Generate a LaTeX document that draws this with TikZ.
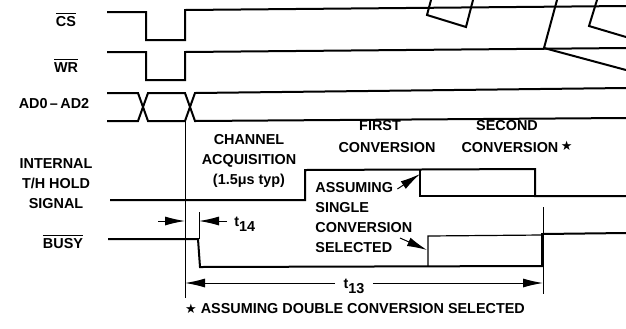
\documentclass[tikz,border=0pt]{standalone}
\usepackage{fontspec}
\setmainfont{Liberation Sans}
\newfontfamily\starfont{DejaVu Sans}
\usetikzlibrary{arrows.meta,positioning}
\newcommand{\sig}[1]{$\overline{\mbox{#1}}$}
\newcommand{\tsub}[2]{#1\raisebox{-2.5pt}{#2}}
\newcommand{\dstar}{{\starfont\fontsize{6.5}{6.5}\selectfont ★}}

\begin{document}
\begin{tikzpicture}[x=0.5pt,y=-0.5pt,node distance=10pt,
    font=\fontsize{7.2}{8}\selectfont\bfseries]
    \tikzstyle{wave}=[line width=1pt, line join=miter]
    \tikzstyle{alt}=[line width=0.6pt]
    \tikzstyle{ext}=[line width=0.4pt]
    \tikzstyle{dim}=[line width=0.5pt, -{Latex[length=10pt,width=4.5pt]}]
    \tikzstyle{txt}=[inner sep=0pt, text height=5pt, text depth=1.5pt]
    \tikzstyle{note}=[txt, anchor=west]
    \useasboundingbox (0,0) rectangle (626,328);

    \node[txt]          (cs) at (66,23) {\sig{CS}};
    \node[txt]          (wr) at (66,69) {\sig{WR}};
    \node[txt]          (ad) at (54,105) {AD0\,--\,AD2};
    \node[txt]          (int) at (56,165) {INTERNAL};
    \node[txt]          (th) [below of=int] {T/H HOLD};
    \node[txt]          (sg) [below of=th] {SIGNAL};
    \node[txt]          (busy) at (63,245) {\sig{BUSY}};

    \node[txt]          (chan) at (249,141) {CHANNEL};
    \node[txt]          (acq) [below of=chan] {ACQUISITION};
    \node[txt]          (typ) [below of=acq] {(1.5μs typ)};
    \node[txt]          (first) at (380,127) {FIRST};
    \node[txt]          (conv1) at (387,149) {CONVERSION};
    \node[txt]          (second) at (507,127) {SECOND};
    \node[txt]          (conv2) at (517,149) {CONVERSION\,\raisebox{1pt}{\dstar}};

    \node[note]         (assum) at (315,189) {ASSUMING};
    \node[note]         (single) at (315,209) {SINGLE};
    \node[note]         (conv3) at (315,229) {CONVERSION};
    \node[note]         (sel) at (315,249) {SELECTED};

    \node[txt]          (foot) at (355,310) {\dstar\ ASSUMING DOUBLE CONVERSION SELECTED};

    \draw[wave] (107,12) -- (146,12) -- (146,40) -- (185,40) -- (185,10) -- (626,6);
    \draw[wave] (107,52) -- (146,52) -- (146,80) -- (185,80) -- (185,52) -- (626,48);
    \draw[wave] (107,93) -- (138,93) -- (148,121) -- (185,121) -- (195,93) -- (626,88);
    \draw[wave] (107,121) -- (138,121) -- (148,93) -- (185,93) -- (195,121) -- (626,118);
    \draw[wave] (110,200) -- (305,200) -- (305,170) -- (535,169) -- (535,196) -- (626,196);
    \draw[alt] (420,170) -- (420,196) -- (535,196);
    \draw[wave] (108,239) -- (198,239) -- (200,267) -- (542,266) -- (542,234) -- (626,233);
    \draw[alt] (428,266) -- (428,236) -- (542,235);

    \draw[wave] (431,0) -- (427,15) -- (466,27) -- (473,0);
    \draw[wave] (557,0) -- (544,48) -- (626,70);
    \draw[wave] (597,0) -- (589,26) -- (626,37);

    \coordinate (e1) at (185,298);
    \coordinate (e2) at (199,212);
    \coordinate (e3) at (543,207);
    \draw[ext] (185,121) -- (e1);
    \draw[ext] (e2) -- (199,239);
    \draw[ext] (e3) -- (543,294);

    \node[txt,anchor=west] (t14) at (234,223) {\tsub{t}{14}};
    \coordinate (t14a) at (158,221);
    \coordinate (t14b) at (227,221);
    \draw[dim] (t14a) -- (185,221);
    \draw[dim] (t14b) -- (199,221);

    \node[txt]          (t13) at (354,285) {\tsub{t}{13}};
    \draw[dim] ([xshift=-4pt]t13.west |- 0,283) -- (185,283);
    \draw[dim] ([xshift=4pt]t13.east |- 0,283) -- (543,283);

    \coordinate (thalt) at (420,174);
    \coordinate (busyalt) at (427,250);
    \draw[dim] ([xshift=2pt]assum.east) -- (thalt);
    \draw[dim] (400,238) -- (busyalt);
\end{tikzpicture}
\end{document}
